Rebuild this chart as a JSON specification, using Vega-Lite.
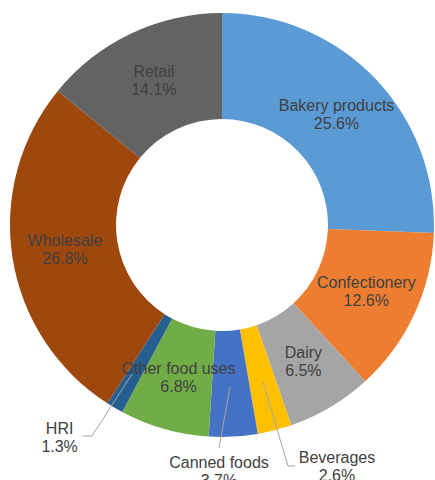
{
  "$schema": "https://vega.github.io/schema/vega-lite/v6.json",
  "width": 444,
  "height": 450,
  "padding": 0,
  "background": "white",
  "config": {"view": {"stroke": null}},
  "datasets": {
    "slices": [
      {"category": "Bakery products", "value": 0.256},
      {"category": "Confectionery", "value": 0.126},
      {"category": "Dairy", "value": 0.065},
      {"category": "Beverages", "value": 0.026},
      {"category": "Canned foods", "value": 0.037},
      {"category": "Other food uses", "value": 0.068},
      {"category": "HRI", "value": 0.013},
      {"category": "Wholesale", "value": 0.268},
      {"category": "Retail", "value": 0.141}
    ],
    "leaders": [
      {"line": "HRI", "p": 1, "x": -42.45, "y": -70.28},
      {"line": "HRI", "p": 2, "x": -61.32, "y": -99.53},
      {"line": "HRI", "p": 3, "x": -65.57, "y": -99.53},
      {"line": "Canned foods", "p": 1, "x": 3.77, "y": -76.42},
      {"line": "Canned foods", "p": 2, "x": -1.42, "y": -105.19},
      {"line": "Beverages", "p": 1, "x": 19.34, "y": -74.06},
      {"line": "Beverages", "p": 2, "x": 31.13, "y": -113.68},
      {"line": "Beverages", "p": 3, "x": 34.43, "y": -113.68}
    ],
    "outside": [
      {"category": "HRI", "value": 0.013, "x": -76.6, "y": -100.24},
      {"category": "Canned foods", "value": 0.037, "x": -1.42, "y": -116.5},
      {"category": "Beverages", "value": 0.026, "x": 54.25, "y": -114.15}
    ]
  },
  "layer": [
    {
      "data": {"name": "slices"},
      "transform": [{"window": [{"op": "row_number", "as": "idx"}]}],
      "encoding": {
        "theta": {"field": "value", "type": "quantitative", "stack": true},
        "order": {"field": "idx", "type": "quantitative"},
        "color": {
          "field": "category",
          "type": "nominal",
          "legend": null,
          "scale": {
            "domain": ["Bakery products", "Confectionery", "Dairy", "Beverages", "Canned foods", "Other food uses", "HRI", "Wholesale", "Retail"],
            "range": ["#5B9BD5", "#ED7D31", "#A5A5A5", "#FFC000", "#4472C4", "#70AD47", "#255E91", "#9E480E", "#636363"]
          }
        }
      },
      "layer": [
        {"mark": {"type": "arc", "outerRadius": 212, "innerRadius": 106}},
        {
          "mark": {"type": "text", "radius": 159, "dy": -9, "font": "Liberation Sans", "fontSize": 16, "color": "#404040", "baseline": "middle", "align": "center"},
          "encoding": {
            "color": {"value": "#404040"},
            "text": {"condition": {"test": "datum.value < 0.05", "value": ""}, "field": "category", "type": "nominal"}
          }
        },
        {
          "mark": {"type": "text", "radius": 159, "dy": 9, "font": "Liberation Sans", "fontSize": 16, "color": "#404040", "baseline": "middle", "align": "center"},
          "encoding": {
            "color": {"value": "#404040"},
            "text": {"condition": {"test": "datum.value < 0.05", "value": ""}, "field": "value", "type": "quantitative", "format": ".1%"}
          }
        }
      ]
    },
    {
      "data": {"name": "leaders"},
      "mark": {"type": "line", "color": "#A6A6A6", "strokeWidth": 1},
      "encoding": {
        "x": {"field": "x", "type": "quantitative", "axis": null, "scale": {"domain": [-104.72, 104.72], "nice": false, "zero": false}},
        "y": {"field": "y", "type": "quantitative", "axis": null, "scale": {"domain": [-106.13, 106.13], "nice": false, "zero": false}},
        "detail": {"field": "line", "type": "nominal"},
        "order": {"field": "p", "type": "quantitative"}
      }
    },
    {
      "data": {"name": "outside"},
      "encoding": {
        "x": {"field": "x", "type": "quantitative"},
        "y": {"field": "y", "type": "quantitative"}
      },
      "layer": [
        {
          "mark": {"type": "text", "dy": -9, "font": "Liberation Sans", "fontSize": 16, "color": "#404040", "baseline": "middle", "align": "center"},
          "encoding": {"text": {"field": "category", "type": "nominal"}}
        },
        {
          "mark": {"type": "text", "dy": 9, "font": "Liberation Sans", "fontSize": 16, "color": "#404040", "baseline": "middle", "align": "center"},
          "encoding": {"text": {"field": "value", "type": "quantitative", "format": ".1%"}}
        }
      ]
    }
  ]
}
